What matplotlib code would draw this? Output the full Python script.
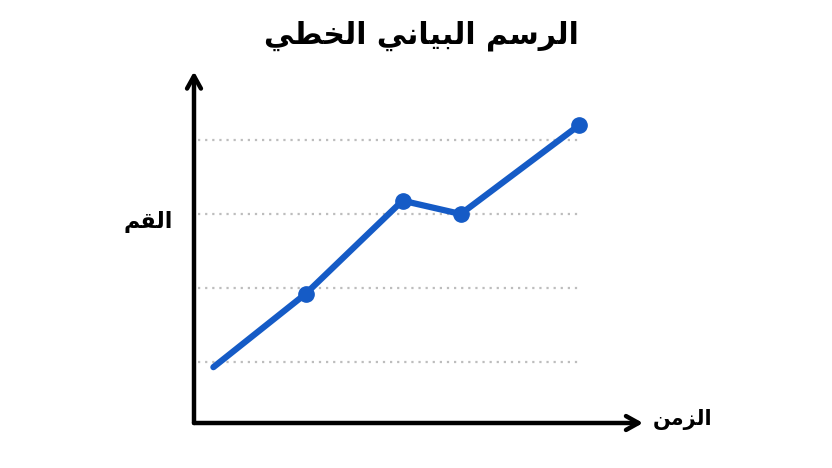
import matplotlib
matplotlib.use("Agg")
import matplotlib.pyplot as plt

# ---- data ----
title_text = "الرسم البياني الخطي"
y_label = "القم"
x_label = "الزمن"
x_values = [0.2, 1.15, 2.15, 2.75, 3.97]
y_values = [0.93, 1.92, 3.18, 3.0, 4.2]
marker_flags = [False, True, True, True, True]
grid_levels = [1, 2, 3, 4]

# ---- minimal Arabic shaping (presentation forms, visual order) ----
FORMS = {
    'ا': (0xFE8D, 0xFE8E, None, None),
    'ب': (0xFE8F, 0xFE90, 0xFE91, 0xFE92),
    'خ': (0xFEA5, 0xFEA6, 0xFEA7, 0xFEA8),
    'ر': (0xFEAD, 0xFEAE, None, None),
    'ز': (0xFEAF, 0xFEB0, None, None),
    'س': (0xFEB1, 0xFEB2, 0xFEB3, 0xFEB4),
    'ط': (0xFEC1, 0xFEC2, 0xFEC3, 0xFEC4),
    'ق': (0xFED5, 0xFED6, 0xFED7, 0xFED8),
    'ل': (0xFEDD, 0xFEDE, 0xFEDF, 0xFEE0),
    'م': (0xFEE1, 0xFEE2, 0xFEE3, 0xFEE4),
    'ن': (0xFEE5, 0xFEE6, 0xFEE7, 0xFEE8),
    'ي': (0xFEF1, 0xFEF2, 0xFEF3, 0xFEF4),
}

def dual(ch):
    return ch in FORMS and FORMS[ch][2] is not None

def shape_word(w):
    out = []
    for i, ch in enumerate(w):
        if ch not in FORMS:
            out.append(ch)
            continue
        jp = i > 0 and dual(w[i - 1])
        jn = dual(ch) and i + 1 < len(w) and w[i + 1] in FORMS
        f = FORMS[ch]
        if jp and jn:
            c = f[3]
        elif jp:
            c = f[1]
        elif jn:
            c = f[2]
        else:
            c = f[0]
        out.append(chr(c))
    return "".join(reversed(out))

def shape(text):
    return " ".join(shape_word(w) for w in reversed(text.split(" ")))

# ---- figure ----
W, H = 832, 468
fig = plt.figure(figsize=(W / 100, H / 100), dpi=100)
left, right, bottom, top = 194, 645, 423, 70
ax = fig.add_axes([left / W, (H - bottom) / H, (right - left) / W, (bottom - top) / H])
x_max = (right - left) / 97.0
y_min = (436 - bottom) / 74.0
y_max = (436 - top) / 74.0
ax.set_xlim(0, x_max)
ax.set_ylim(y_min, y_max)
ax.axis("off")

# grid
for g in grid_levels:
    ax.plot([0.04, 3.98], [g, g], color="#bdbdbd", lw=1.6, ls=(0, (1, 2.2)), zorder=1)

# axes with arrows
arrow_style = "->,head_length=0.9,head_width=0.5"
ax.annotate("", xy=(0, y_max - 0.02), xytext=(0, y_min), xycoords="data",
            arrowprops=dict(arrowstyle=arrow_style, color="black", lw=3.2,
                            shrinkA=0, shrinkB=0), annotation_clip=False)
ax.annotate("", xy=(x_max - 0.02, y_min), xytext=(0, y_min), xycoords="data",
            arrowprops=dict(arrowstyle=arrow_style, color="black", lw=3.2,
                            shrinkA=0, shrinkB=0), annotation_clip=False)

# line
line_color = "#155bc6"
ax.plot(x_values, y_values, color=line_color, lw=4.5, solid_capstyle="round", zorder=3)
mx = [x for x, f in zip(x_values, marker_flags) if f]
my = [y for y, f in zip(y_values, marker_flags) if f]
ax.plot(mx, my, ls="none", marker="o", ms=11, color=line_color, zorder=4)

# texts
fam = ["DejaVu Sans"]
fig.text(421 / W, 1 - 36 / H, shape(title_text), ha="center", va="center",
         fontsize=21.5, fontweight="bold", family=fam)
fig.text(148 / W, 1 - 222 / H, shape(y_label), ha="center", va="center",
         fontsize=16, fontweight="bold", family=fam)
fig.text(683 / W, 1 - 420 / H, shape(x_label), ha="center", va="center",
         fontsize=15, fontweight="bold", family=fam)

fig.savefig("out.png", dpi=100)
